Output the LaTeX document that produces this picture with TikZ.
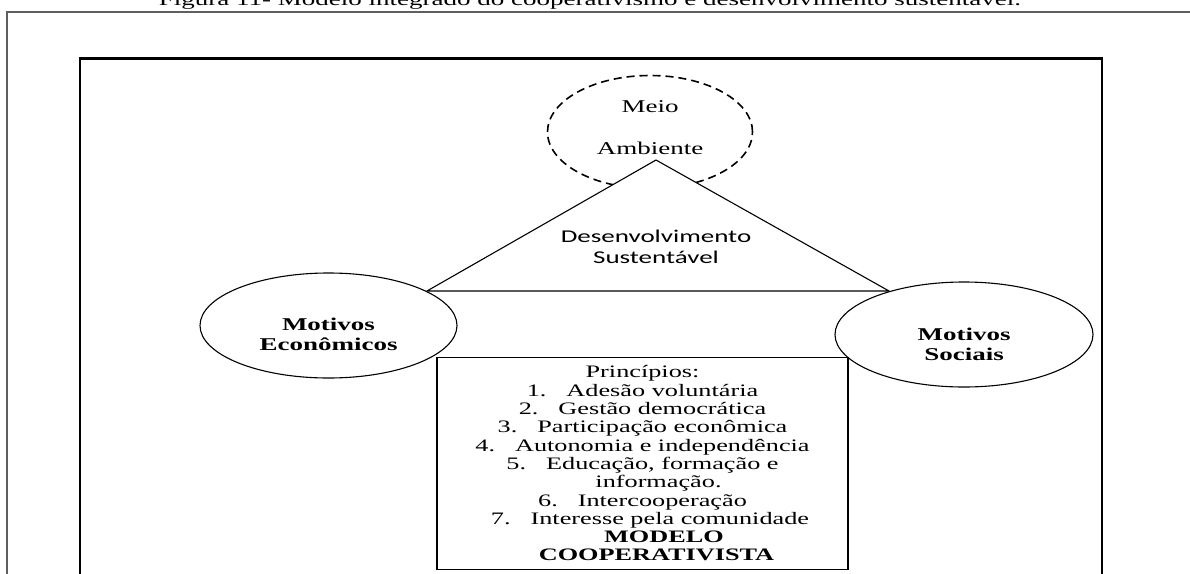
\documentclass[tikz,border=0pt]{standalone}
\usepackage{fontspec}
\setmainfont{Liberation Serif}[FakeStretch=1.5]
\newfontfamily\calfont{Carlito}[FakeStretch=1.5]
\usetikzlibrary{shapes.geometric}
\definecolor{framegray}{RGB}{95,95,95}

% numbered principle: number, tab-like gap, text
\newcommand{\prinitem}[2]{#1\hspace{20pt}#2}

\begin{document}
\begin{tikzpicture}[x=1pt,y=-1pt,
  outerframe/.style={draw=framegray, line width=2pt},
  innerframe/.style={draw=black, line width=2.2pt},
  plaintext/.style={inner sep=0pt, align=center},
  motive/.style={draw, ellipse, line width=1.1pt, fill=white, inner sep=0pt},
  motivetext/.style={plaintext, font=\fontsize{18}{20}\selectfont\bfseries},
  envcircle/.style={draw, ellipse, dash pattern=on 8pt off 5pt, line width=1.6pt, inner sep=0pt},
  devtriangle/.style={draw, fill=white, line width=1.1pt, line join=miter},
  principlebox/.style={draw, fill=white, line width=1.1pt, inner sep=0pt,
    minimum width=411pt, minimum height=212pt, align=center,
    font=\fontsize{17.5}{18.3}\selectfont}
]
\useasboundingbox (0,0) rectangle (1190,573);
\clip (0,0) rectangle (1190,573);

% caption running above the frame
\node[anchor=base, inner sep=0pt, font=\fontsize{18}{20}\selectfont] (caption) at (590,5)
  {Figura 11- Modelo integrado do cooperativismo e desenvolvimento sustentável.};

% frames
\draw[outerframe] (7,580) -- (7,12) -- (1195,12);
\draw[innerframe] (80,580) -- (80,58.5) -- (1102,58.5) -- (1102,580);

% environment circle
\node[envcircle, minimum width=205pt, minimum height=113pt] (meio) at (650,132) {};
\node[plaintext, font=\fontsize{18}{42}\selectfont] (meiotext) at (650,128) {Meio\\Ambiente};

% sustainable development triangle
\coordinate (apex) at (656,160);
\coordinate (baseleft) at (427,291);
\coordinate (baseright) at (889,291);
\draw[devtriangle] (apex) -- (baseleft) -- (baseright) -- cycle;
\node[plaintext, font=\calfont\fontsize{18}{21}\selectfont] (devtext) at (656,247)
  {Desenvolvimento\\Sustentável};

% motives
\node[motive, minimum width=257pt, minimum height=105pt] (econ) at (328.5,325.5) {};
\node[motivetext] (econtext) at (328.5,334) {Motivos\\Econômicos};
\node[motive, minimum width=258pt, minimum height=105pt] (social) at (964,334.5) {};
\node[motivetext] (socialtext) at (964,344) {Motivos\\Sociais};

% cooperative principles
\node[principlebox] (principles) at (642.5,463.5) {%
  Princípios:\\
  \prinitem{1.}{Adesão voluntária}\\
  \prinitem{2.}{Gestão democrática}\\
  \prinitem{3.}{Participação econômica}\\
  \prinitem{4.}{Autonomia e independência}\\
  \prinitem{5.}{Educação, formação e}\hspace*{10pt}\\
  \hspace*{32pt}informação.\\
  \prinitem{6.}{Intercooperação}\\
  \hspace*{15pt}\prinitem{7.}{Interesse pela comunidade}\\
  \hspace*{43pt}\textbf{MODELO}\\
  \hspace*{28pt}\textbf{COOPERATIVISTA}};
\end{tikzpicture}
\end{document}
